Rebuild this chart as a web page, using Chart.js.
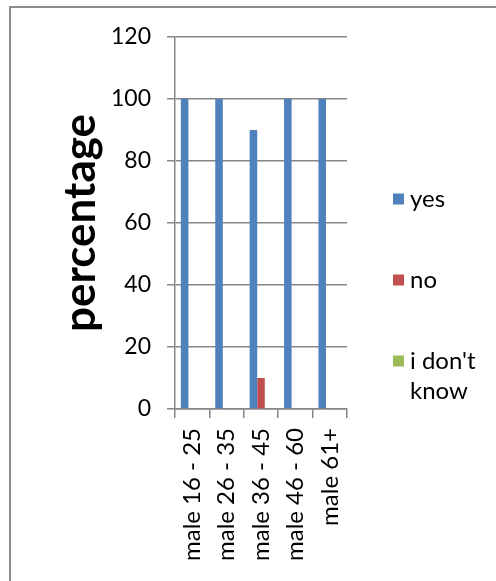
<!DOCTYPE html>
<html>
<head>
<meta charset="utf-8">
<script src="https://cdn.jsdelivr.net/npm/chart.js@4/dist/chart.umd.min.js"></script>
<style>
  html,body{margin:0;padding:0;background:#fff;}
  #wrap{position:relative;width:496px;height:581px;overflow:hidden;}
  #frame{position:absolute;left:9px;top:6px;width:600px;height:700px;border-left:2px solid #8c8c8c;border-top:2px solid #8c8c8c;box-sizing:border-box;}
  canvas{position:absolute;left:0;top:0;}
</style>
</head>
<body>
<div id="wrap">
  <div id="frame"></div>
  <canvas id="c" width="496" height="581"></canvas>
</div>
<script>
const categories = ["male 16 - 25", "male 26 - 35", "male 36 - 45", "male 46 - 60", "male 61+"];
const yesValues = [100, 100, 90, 100, 100];
const noValues = [0, 0, 10, 0, 0];
const dontKnowValues = [0, 0, 0, 0, 0];
const seriesNames = ["yes", "no", ["i don't", "know"]];
const yTicks = [0, 20, 40, 60, 80, 100, 120];
const yTitle = "percentage";

const FONT = "Lato, 'Open Sans', 'Liberation Sans', sans-serif";
const colors = ["#4f81bd", "#c0504d", "#9bbb59"];

const legendPlugin = {
  id: 'sideLegend',
  afterDraw(chart) {
    const ctx = chart.ctx;
    const ys = [199, 280, 361];
    ctx.save();
    ctx.font = "24px " + FONT;
    ctx.textBaseline = "middle";
    ctx.textAlign = "left";
    chart.data.datasets.forEach((ds, i) => {
      const y = ys[i];
      ctx.fillStyle = ds.backgroundColor;
      ctx.fillRect(393, y - 5.5, 11, 11);
      ctx.fillStyle = "#000";
      const lines = Array.isArray(seriesNames[i]) ? seriesNames[i] : [seriesNames[i]];
      lines.forEach((t, k) => ctx.fillText(t, 410, y + k * 30));
    });
    ctx.restore();
  }
};

new Chart(document.getElementById('c'), {
  type: 'bar',
  data: {
    labels: categories,
    datasets: [
      { label: "yes", data: yesValues, backgroundColor: colors[0] },
      { label: "no", data: noValues, backgroundColor: colors[1] },
      { label: "i don't know", data: dontKnowValues, backgroundColor: colors[2] }
    ]
  },
  options: {
    responsive: false,
    animation: false,
    devicePixelRatio: 1,
    layout: { padding: { left: 0, top: 37, right: 149, bottom: 0 } },
    datasets: { bar: { categoryPercentage: 0.66, barPercentage: 1.0 } },
    plugins: { legend: { display: false }, tooltip: { enabled: false } },
    scales: {
      x: {
        grid: { display: true, drawOnChartArea: false, color: "#868686", tickLength: 9, lineWidth: 1.5, offset: true },
        border: { color: "#868686", width: 1.5 },
        ticks: { color: "#000", font: { family: FONT, size: 24 }, minRotation: 90, maxRotation: 90, padding: 10, autoSkip: false },
        afterFit(scale) { scale.height = 581 - 409; }
      },
      y: {
        min: 0, max: 120,
        afterBuildTicks(scale) { scale.ticks = yTicks.map(v => ({ value: v })); },
        grid: { color: "#868686", tickLength: 8, lineWidth: 1.5 },
        border: { color: "#868686", width: 1.5 },
        ticks: { color: "#000", font: { family: FONT, size: 23 }, padding: 16 },
        title: { display: true, text: yTitle, color: "#000", font: { family: FONT, size: 44, weight: 'bold' }, padding: { top: 54, bottom: 0 } },
        afterFit(scale) { scale.width = 175; }
      }
    }
  },
  plugins: [legendPlugin]
});
</script>
</body>
</html>
